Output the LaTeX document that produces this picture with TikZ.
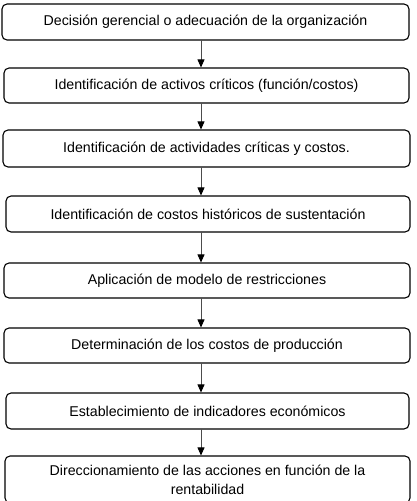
\documentclass[tikz,border=0pt]{standalone}
\usepackage{fontspec}
\setmainfont{Liberation Sans}
\usetikzlibrary{arrows.meta}
\begin{document}
\begin{tikzpicture}[x=1pt, y=-1pt, >={Triangle[width=7pt, length=8pt, black]}, line join=round, line cap=round,
    caja/.style={draw, rounded corners=5pt, line width=1.1pt, align=center, inner sep=0pt, font=\fontsize{14.2}{19}\selectfont}]
    \useasboundingbox (0,0) rectangle (416,501);
    \coordinate (eje) at (201,0);
    \foreach \id/\x/\y/\w/\h/\text in {
        decision/205.5/22/407/36/{Decisión gerencial o adecuación de la organización},
        activos/206.5/85.5/405/35/{Identificación de activos críticos (función/costos)},
        actividades/206.5/148.5/407/37/{Identificación de actividades críticas y costos.},
        historicos/208/214/404/36/{Identificación de costos históricos de sustentación},
        modelo/207/280.5/406/35/{Aplicación de modelo de restricciones},
        produccion/207/345.5/406/35/{Determinación de los costos de producción},
        indicadores/207.5/411/403/36/{Establecimiento de indicadores económicos},
        acciones/207.5/479.5/405/47/{Direccionamiento de las acciones en función de la\\ rentabilidad}%
    } {
        \node[caja, minimum width=\w pt, minimum height=\h pt] (\id) at (\x, \y) {\text};
    }
    \foreach \a/\b in {decision/activos, activos/actividades, actividades/historicos, historicos/modelo,
        modelo/produccion, produccion/indicadores, indicadores/acciones} {
        \draw[->, gray!60!black, line width=0.8pt] (\a.south -| eje) -- (\b.north -| eje);
    }
\end{tikzpicture}
\end{document}
